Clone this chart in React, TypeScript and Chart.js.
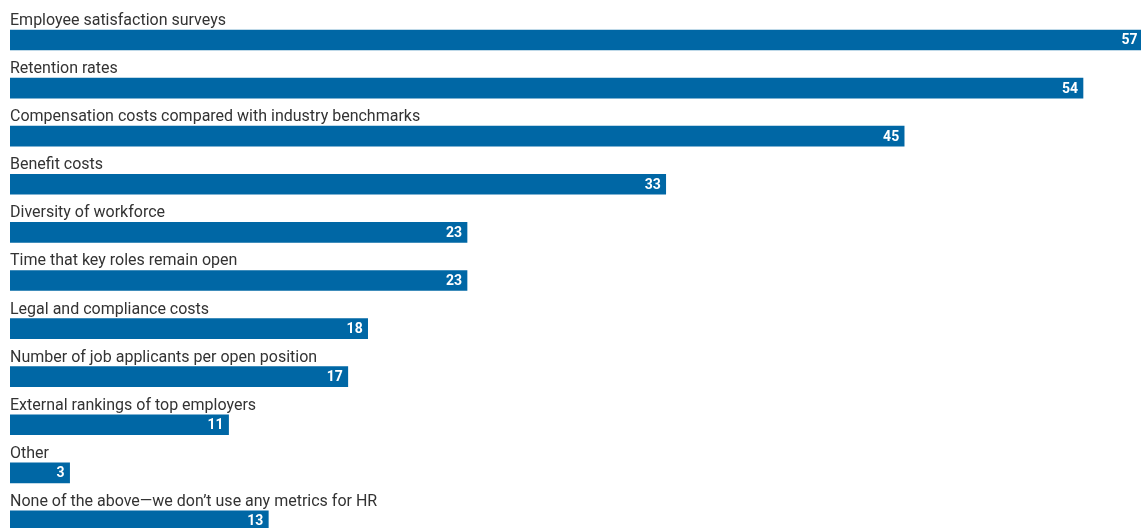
import React, { useEffect, useRef } from "react";
import { Chart, registerables } from "chart.js";

Chart.register(...registerables);

const categories: string[] = [
  "Employee satisfaction surveys",
  "Retention rates",
  "Compensation costs compared with industry benchmarks",
  "Benefit costs",
  "Diversity of workforce",
  "Time that key roles remain open",
  "Legal and compliance costs",
  "Number of job applicants per open position",
  "External rankings of top employers",
  "Other",
  "None of the above\u2014we don\u2019t use any metrics for HR",
];

const values: number[] = [57, 54, 45, 33, 23, 23, 18, 17, 11, 3, 13];

const BAR_COLOR = "#0067a5";
const TEXT_COLOR = "#333333";

const labelPlugin = {
  id: "barLabels",
  afterDatasetsDraw(chart: any) {
    const ctx = chart.ctx as CanvasRenderingContext2D;
    const meta = chart.getDatasetMeta(0);
    const left = chart.chartArea.left;
    ctx.save();
    meta.data.forEach((bar: any, i: number) => {
      const top = bar.y - bar.height / 2;
      ctx.font = "16px Roboto";
      ctx.fillStyle = TEXT_COLOR;
      ctx.textAlign = "left";
      ctx.textBaseline = "alphabetic";
      ctx.fillText(categories[i], left, top - 5);
      ctx.font = "bold 14px Roboto";
      ctx.fillStyle = "#ffffff";
      ctx.textAlign = "right";
      ctx.textBaseline = "middle";
      ctx.fillText(String(values[i]), bar.x - 5, bar.y + 1);
    });
    ctx.restore();
  },
};

export default function App() {
  const ref = useRef<HTMLCanvasElement | null>(null);
  useEffect(() => {
    if (!ref.current) return;
    const chart = new Chart(ref.current, {
      type: "bar",
      data: {
        labels: categories,
        datasets: [
          {
            data: values,
            backgroundColor: BAR_COLOR,
            barThickness: 20,
            borderWidth: 0,
          },
        ],
      },
      options: {
        indexAxis: "y",
        animation: false,
        responsive: false,
        maintainAspectRatio: false,
        layout: { padding: { left: 10, right: 7.4, top: 15.95, bottom: 5 } },
        plugins: {
          legend: { display: false },
          tooltip: { enabled: false },
        },
        scales: {
          x: { display: false, min: 0, max: 57, grid: { display: false } },
          y: { display: false, grid: { display: false } },
        },
      },
      plugins: [labelPlugin],
    });
    return () => chart.destroy();
  }, []);
  return (
    <div
      style={{
        position: "fixed",
        left: 0,
        top: 0,
        width: 1141,
        height: 528,
        overflow: "hidden",
        background: "#fff",
      }}
    >
      <canvas ref={ref} width={1150} height={550} style={{ width: 1150, height: 550, display: "block" }} />
    </div>
  );
}
